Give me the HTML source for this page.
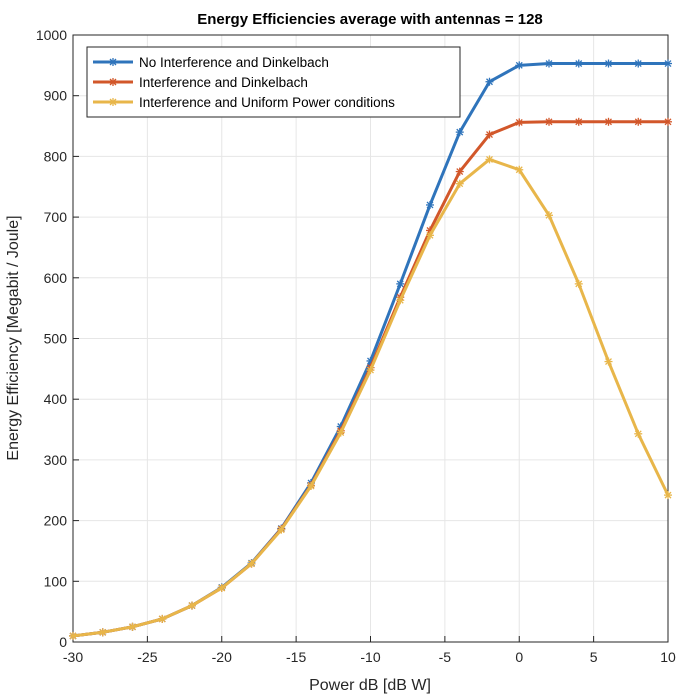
<!DOCTYPE html>
<html><head><meta charset="utf-8"><style>
body{margin:0;background:#fff;}
svg text{font-family:"Liberation Sans",sans-serif;}
</style></head><body>
<svg id="chart" width="688" height="694" xmlns="http://www.w3.org/2000/svg"></svg>
<script>
const xValues=[-30,-28,-26,-24,-22,-20,-18,-16,-14,-12,-10,-8,-6,-4,-2,0,2,4,6,8,10];
const blueValues=[10,16,25,38,60,90,130,187,262,355,463,590,720,840,923,950,953,953,953,953,953];
const redValues=[10,16,25,38,60,89,129,186,258,348,452,568,678,775,836,856,857,857,857,857,857];
const yellowValues=[10,16,25,38,60,89,129,185,257,345,448,563,670,755,795,778,703,590,462,343,242];
const xTicks=[-30,-25,-20,-15,-10,-5,0,5,10];
const yTicks=[0,100,200,300,400,500,600,700,800,900,1000];
const seriesNames=["No Interference and Dinkelbach","Interference and Dinkelbach","Interference and Uniform Power conditions"];
const colors=["#2F74BB","#D2572A","#E8B64A"];
const L=73,R=668,T=35,B=642;
const sx=v=>L+(v+30)/40*(R-L);
const sy=v=>B-v/1000*(B-T);
const svg=document.getElementById('chart');
const NS="http://www.w3.org/2000/svg";
function mk(tag,attrs,parent){const e=document.createElementNS(NS,tag);for(const k in attrs)e.setAttribute(k,attrs[k]);(parent||svg).appendChild(e);return e;}
mk('rect',{x:L,y:T,width:R-L,height:B-T,fill:'#fff'});
xTicks.forEach(t=>{
  const g=mk('line',{x1:sx(t),x2:sx(t),y1:T,y2:B,stroke:'#e6e6e6','stroke-width':1});
  
  
  const tx=mk('text',{x:sx(t),y:B+20,'text-anchor':'middle','font-size':14,fill:'#262626'});
  tx.textContent=t;
  
  
  mk('line',{x1:sx(t),x2:sx(t),y1:B,y2:B-6,stroke:'#262626'});
});
yTicks.forEach(t=>{
  const g=mk('line',{x1:L,x2:R,y1:sy(t),y2:sy(t),stroke:'#e6e6e6','stroke-width':1});
  
  
  const tx=mk('text',{x:L-6,y:sy(t)+5,'text-anchor':'end','font-size':14,fill:'#262626'});
  tx.textContent=t;
  
  
  mk('line',{x1:L,x2:L+6,y1:sy(t),y2:sy(t),stroke:'#262626'});
});
const ax=mk('rect',{x:L,y:T,width:R-L,height:B-T,fill:'none',stroke:'#262626','stroke-width':1});


function star(x,y,c,g){
  [[-4,0,4,0],[0,-4,0,4],[-3,-3,3,3],[-3,3,3,-3]].forEach(d=>mk('line',{x1:x+d[0],y1:y+d[1],x2:x+d[2],y2:y+d[3],stroke:c,'stroke-width':1.3},g));
}
[blueValues,redValues,yellowValues].forEach((vals,i)=>{
  const g=mk('g',{});
  
  
  const pts=vals.map((v,j)=>sx(xValues[j])+','+sy(v)).join(' ');
  mk('polyline',{points:pts,fill:'none',stroke:colors[i],'stroke-width':3,'stroke-linejoin':'round'},g);
  vals.forEach((v,j)=>star(sx(xValues[j]),sy(v),colors[i],g));
});
const lg=mk('g',{});


mk('rect',{x:87,y:47,width:373,height:70,fill:'#fff',stroke:'#262626','stroke-width':1},lg);
seriesNames.forEach((n,i)=>{
  const y=62+i*20;
  const e=mk('g',{},lg);
  
  
  mk('line',{x1:93,x2:133,y1:y,y2:y,stroke:colors[i],'stroke-width':3},e);
  star(113,y,colors[i],e);
  const t=mk('text',{x:139,y:y+5,'font-size':13.5,fill:'#000'},e);
  t.textContent=n;
});
const title=mk('text',{x:370,y:24,'text-anchor':'middle','font-size':15,'font-weight':'bold',fill:'#000'});
title.textContent="Energy Efficiencies average with antennas = 128";


const xl=mk('text',{x:370,y:690,'text-anchor':'middle','font-size':16,fill:'#262626'});
xl.textContent="Power dB [dB W]";


const yl=mk('text',{x:0,y:0,'text-anchor':'middle','font-size':16,fill:'#262626',transform:'translate(18,338) rotate(-90)'});
yl.textContent="Energy Efficiency [Megabit / Joule]";


</script>
</body></html>
